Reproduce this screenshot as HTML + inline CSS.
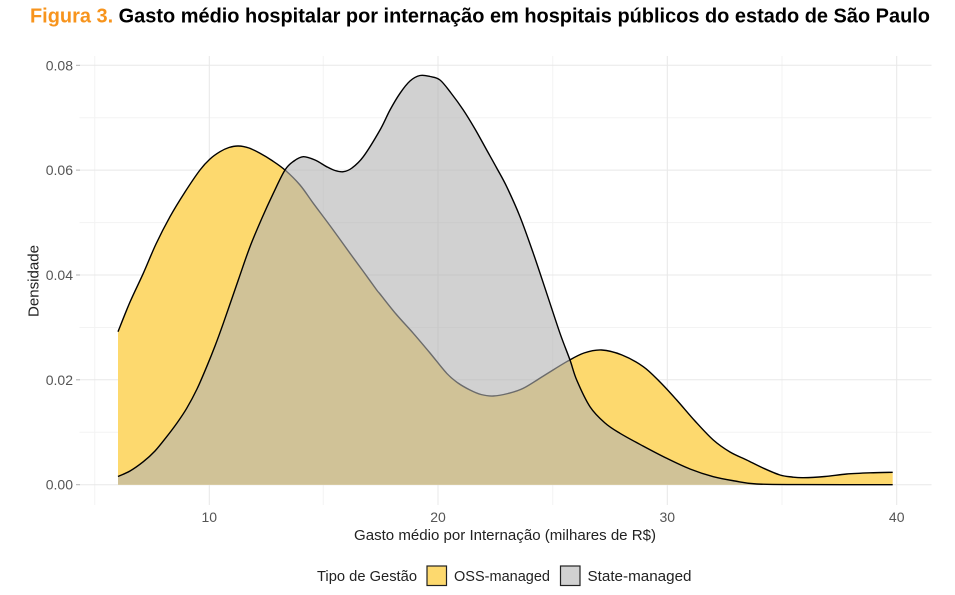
<!DOCTYPE html>
<html><head><meta charset="utf-8"><style>
html,body{margin:0;padding:0;background:#fff;}
svg{display:block;}
text{font-family:"Liberation Sans",sans-serif;}
</style></head><body>
<svg width="955" height="595" viewBox="0 0 955 595" xmlns="http://www.w3.org/2000/svg">
<rect width="955" height="595" fill="#fff"/>
<text x="30" y="22.5" font-size="20" font-weight="bold" textLength="900" lengthAdjust="spacingAndGlyphs"><tspan fill="#F7941D">Figura 3.</tspan><tspan fill="#000"> Gasto médio hospitalar por internação em hospitais públicos do estado de São Paulo</tspan></text>
<g stroke="#f3f3f3" stroke-width="1">
<line x1="79.5" y1="432.3" x2="931.5" y2="432.3"/>
<line x1="79.5" y1="327.5" x2="931.5" y2="327.5"/>
<line x1="79.5" y1="222.6" x2="931.5" y2="222.6"/>
<line x1="79.5" y1="117.7" x2="931.5" y2="117.7"/>
<line x1="94.7" y1="56" x2="94.7" y2="505"/>
<line x1="323.3" y1="56" x2="323.3" y2="505"/>
<line x1="552.7" y1="56" x2="552.7" y2="505"/>
<line x1="782" y1="56" x2="782" y2="505"/>
</g>
<g stroke="#e8e8e8" stroke-width="1">
<line x1="79.5" y1="484.7" x2="931.5" y2="484.7"/>
<line x1="79.5" y1="379.8" x2="931.5" y2="379.8"/>
<line x1="79.5" y1="275" x2="931.5" y2="275"/>
<line x1="79.5" y1="170.1" x2="931.5" y2="170.1"/>
<line x1="79.5" y1="65.3" x2="931.5" y2="65.3"/>
<line x1="209.3" y1="56" x2="209.3" y2="505"/>
<line x1="438" y1="56" x2="438" y2="505"/>
<line x1="667.3" y1="56" x2="667.3" y2="505"/>
<line x1="896.7" y1="56" x2="896.7" y2="505"/>
</g>
<g stroke="#b0b0b0" stroke-width="1">
<line x1="76" y1="484.7" x2="80" y2="484.7"/>
<line x1="76" y1="379.8" x2="80" y2="379.8"/>
<line x1="76" y1="275" x2="80" y2="275"/>
<line x1="76" y1="170.1" x2="80" y2="170.1"/>
<line x1="76" y1="65.3" x2="80" y2="65.3"/>
</g>
<path id="ossFill" fill="#FDD96E" stroke="none" d="M118,331.7 L130,302 143.3,273.3 156,244 170,216.7 185,192 200,170 210,159 220,151.7 229,147.5 238.3,146 249,148 260,153.3 272,160.5 285,170 300,185 313.3,203.3 331,227 350,253.3 363,271 376.7,290 380,294 396,314 413.3,333.3 430,353 446.7,373.3 458,383 470,390 481,394.5 493.3,396 508,393.5 523.3,388.3 545,375 566.7,361.7 584,353 601.7,350 622,355 643.3,366.7 660,382 676.7,400 695,421 713.3,440 730,452 746.7,460 763,468 780,475 792,477 803.3,477.7 825,476.5 846.7,474 870,472.8 892.7,472.3 L892.7,484.7 L118,484.7 Z"/>
<path id="ossLine" fill="none" stroke="#000" stroke-width="1.4" stroke-linejoin="round" d="M118,331.7 L130,302 143.3,273.3 156,244 170,216.7 185,192 200,170 210,159 220,151.7 229,147.5 238.3,146 249,148 260,153.3 272,160.5 285,170 300,185 313.3,203.3 331,227 350,253.3 363,271 376.7,290 380,294 396,314 413.3,333.3 430,353 446.7,373.3 458,383 470,390 481,394.5 493.3,396 508,393.5 523.3,388.3 545,375 566.7,361.7 584,353 601.7,350 622,355 643.3,366.7 660,382 676.7,400 695,421 713.3,440 730,452 746.7,460 763,468 780,475 792,477 803.3,477.7 825,476.5 846.7,474 870,472.8 892.7,472.3"/>
<path id="stFill" fill="#b3b3b3" fill-opacity="0.6" stroke="none" d="M118,476.5 L130,471 143.3,461.7 155,451 166.7,436.7 177,423 186.7,408.3 197,389 206.7,366.7 215,346 223.3,323.3 238.3,280 250,246.7 262,218 273.3,193.3 285,170 294,161 303.3,156.7 315,160 326.7,166.7 335,170.5 343.3,171.7 352,168 363.3,156.7 380,130 390,110 400,93.3 410,81 420,75.5 430,76.5 440,80 451,93 463.3,110 475,129 486.7,150 496.7,168 506.7,186.7 520,216.7 533.3,253.3 546.7,293.3 560,333.3 570,360 576.7,380 590,406.7 605,423 620,433.3 643,446 666.7,458.3 690,469 713.3,476.7 735,481 756.7,484 800,484.6 892.7,484.7 L118,484.7 Z"/>
<path id="stLine" fill="none" stroke="#000" stroke-width="1.4" stroke-linejoin="round" d="M118,476.5 L130,471 143.3,461.7 155,451 166.7,436.7 177,423 186.7,408.3 197,389 206.7,366.7 215,346 223.3,323.3 238.3,280 250,246.7 262,218 273.3,193.3 285,170 294,161 303.3,156.7 315,160 326.7,166.7 335,170.5 343.3,171.7 352,168 363.3,156.7 380,130 390,110 400,93.3 410,81 420,75.5 430,76.5 440,80 451,93 463.3,110 475,129 486.7,150 496.7,168 506.7,186.7 520,216.7 533.3,253.3 546.7,293.3 560,333.3 570,360 576.7,380 590,406.7 605,423 620,433.3 643,446 666.7,458.3 690,469 713.3,476.7 735,481 756.7,484 800,484.6 892.7,484.7"/>
<g font-size="14" fill="#555" text-anchor="end">
<text x="73" y="489.7">0.00</text>
<text x="73" y="384.8">0.02</text>
<text x="73" y="280">0.04</text>
<text x="73" y="175.1">0.06</text>
<text x="73" y="70.3">0.08</text>
</g>
<g font-size="14" fill="#555" text-anchor="middle">
<text x="209.3" y="522">10</text>
<text x="438" y="522">20</text>
<text x="667.3" y="522">30</text>
<text x="896.7" y="522">40</text>
</g>
<text x="354" y="540" font-size="14.5" fill="#222" textLength="302" lengthAdjust="spacingAndGlyphs">Gasto médio por Internação (milhares de R$)</text>
<text transform="translate(38.5,317) rotate(-90)" font-size="14.5" fill="#222" textLength="72" lengthAdjust="spacingAndGlyphs">Densidade</text>
<text x="317" y="581" font-size="14.5" fill="#222" textLength="100" lengthAdjust="spacingAndGlyphs">Tipo de Gestão</text>
<rect x="427" y="566" width="19.5" height="19.5" fill="#FDD96E" stroke="#222" stroke-width="1.2"/>
<text x="454" y="581" font-size="14.5" fill="#222" textLength="96" lengthAdjust="spacingAndGlyphs">OSS-managed</text>
<rect x="560.5" y="566" width="19.5" height="19.5" fill="#d1d1d1" stroke="#222" stroke-width="1.2"/>
<text x="587.5" y="581" font-size="14.5" fill="#222" textLength="104" lengthAdjust="spacingAndGlyphs">State-managed</text>
</svg>
<script>
(function(){
  function pts(d){
    var s=d.replace(/[MLZ]/g,' ').trim().split(/\s+/);
    var a=[];for(var i=0;i<s.length;i++){var p=s[i].split(',');if(p.length==2)a.push([+p[0],+p[1]]);}
    return a;
  }
  function cr(a){
    var d='M'+a[0][0]+','+a[0][1];
    for(var i=0;i<a.length-1;i++){
      var p0=a[i-1]||a[i],p1=a[i],p2=a[i+1],p3=a[i+2]||a[i+1];
      var c1x=p1[0]+(p2[0]-p0[0])/6,c1y=p1[1]+(p2[1]-p0[1])/6;
      var c2x=p2[0]-(p3[0]-p1[0])/6,c2y=p2[1]-(p3[1]-p1[1])/6;
      d+=' C'+c1x.toFixed(2)+','+c1y.toFixed(2)+' '+c2x.toFixed(2)+','+c2y.toFixed(2)+' '+p2[0]+','+p2[1];
    }
    return d;
  }
  try{
    var pairs=[['ossLine','ossFill'],['stLine','stFill']];
    for(var k=0;k<pairs.length;k++){
      var ln=document.getElementById(pairs[k][0]),fl=document.getElementById(pairs[k][1]);
      var a=pts(ln.getAttribute('d'));
      var c=cr(a);
      ln.setAttribute('d',c);
      var last=a[a.length-1],first=a[0];
      fl.setAttribute('d',c+' L'+last[0]+',484.7 L'+first[0]+',484.7 Z');
    }
  }catch(e){}
})();
</script>
</body></html>
